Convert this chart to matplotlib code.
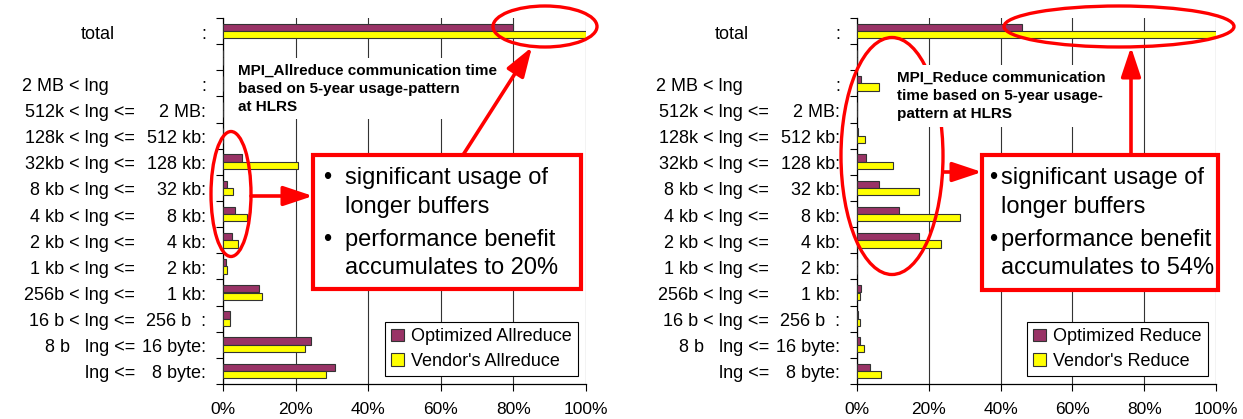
import numpy as np
import matplotlib
matplotlib.use("Agg")
import matplotlib.pyplot as plt
from matplotlib.patches import Ellipse, Rectangle
from matplotlib.transforms import blended_transform_factory, offset_copy

plt.rcParams['font.family'] = ['Liberation Sans', 'DejaVu Sans']

# message-size classes, top to bottom
left_labels = ["total", "", "2 MB < lng", "512k < lng <=", "128k < lng <=", "32kb < lng <=",
               "8 kb < lng <=", "4 kb < lng <=", "2 kb < lng <=", "1 kb < lng <=",
               "256b < lng <=", "16 b < lng <=", "8 b   lng <=", "lng <="]
right_labels = [":", "", ":", "2 MB:", "512 kb:", "128 kb:", "32 kb:", "8 kb:", "4 kb:",
                "2 kb:", "1 kb:", "256 b  :", "16 byte:", "8 byte:"]

# share of communication time in %
allreduce_opt = [80, 0, 0, 0, 0, 5.2, 1.0, 3.3, 2.5, 0.8, 10.0, 1.8, 24.2, 30.8]
allreduce_vendor = [100, 0, 0, 0, 0, 20.6, 2.7, 6.6, 4.0, 1.0, 10.7, 1.8, 22.6, 28.5]
reduce_opt = [46.1, 0, 1.1, 0, 0.4, 2.6, 6.0, 11.8, 17.2, 0, 1.1, 0.4, 0.9, 3.7]
reduce_vendor = [100, 0, 6.2, 0, 2.1, 9.9, 17.2, 28.8, 23.5, 0, 0.9, 0.9, 2.0, 6.6]

x_ticks = [0, 20, 40, 60, 80, 100]

PURPLE = "#993366"
YELLOW = "#FFFF00"
EDGE = "#333333"
RED = "#FF0000"

W, H = 1243, 419
fig = plt.figure(figsize=(W / 100, H / 100), dpi=100)


def draw_panel(x0, x1, opt, vendor, names):
    top, bottom = 18, 384
    ax = fig.add_axes([x0 / W, 1 - bottom / H, (x1 - x0) / W, (bottom - top) / H])
    y = np.arange(len(opt))
    h = 0.28
    ax.barh(y - h / 2, opt, height=h, color=PURPLE, edgecolor=EDGE, lw=0.8,
            label=names[0], zorder=3)
    ax.barh(y + h / 2, vendor, height=h, color=YELLOW, edgecolor=EDGE, lw=0.8,
            label=names[1], zorder=3)
    ax.set_xlim(0, 100)
    ax.set_ylim(len(opt) - 0.5, -0.5)
    ax.set_xticks(x_ticks)
    ax.set_xticklabels([f"{v}%" for v in x_ticks])
    ax.set_yticks(np.arange(-0.5, len(opt)))
    ax.tick_params(axis='y', length=5, width=0.8, labelleft=False)
    ax.tick_params(axis='x', length=5, width=0.8, labelsize=12.5, pad=8)
    ax.grid(axis='x', color='#333333', lw=0.8)
    ax.set_axisbelow(True)
    for s in ['top', 'right']:
        ax.spines[s].set_visible(False)
    for s in ['left', 'bottom']:
        ax.spines[s].set_linewidth(0.9)

    # row labels in two columns, like the original spreadsheet
    base = blended_transform_factory(ax.transAxes, ax.transData)
    t_right = offset_copy(base, fig=fig, x=-17, y=-3, units='dots')
    t_le = offset_copy(base, fig=fig, x=-88, y=-3, units='dots')
    t_lng = offset_copy(base, fig=fig, x=-114, y=-3, units='dots')
    t_tot = offset_copy(base, fig=fig, x=-108, y=-3, units='dots')
    for i, (a, b) in enumerate(zip(left_labels, right_labels)):
        if a.endswith("<="):
            tr = t_le
        elif a == "total":
            tr = t_tot
        else:
            tr = t_lng
        ax.text(0, i, a, transform=tr, ha='right', va='center', fontsize=13)
        ax.text(0, i, b, transform=t_right, ha='right', va='center', fontsize=13)

    leg = ax.legend(loc='lower right', bbox_to_anchor=(0.978, 0.022), fontsize=13,
                    frameon=True, fancybox=False, edgecolor='black', framealpha=1,
                    borderaxespad=0, handlelength=0.7, handleheight=0.7,
                    handletextpad=0.4, labelspacing=0.4, borderpad=0.35)
    leg.get_frame().set_linewidth(0.8)
    return ax


draw_panel(223, 586, allreduce_opt, allreduce_vendor,
           ["Optimized Allreduce", "Vendor's Allreduce"])
draw_panel(857, 1216, reduce_opt, reduce_vendor,
           ["Optimized Reduce", "Vendor's Reduce"])

# annotation overlay in pixel coordinates
ov = fig.add_axes([0, 0, 1, 1], zorder=10)
ov.set_xlim(0, W)
ov.set_ylim(H, 0)
ov.axis('off')

for (cx, cy, ew, eh) in [(545, 26.5, 104, 41), (231, 194, 40, 125),
                         (892, 156, 102, 237), (1119, 26.5, 230, 41)]:
    ov.add_patch(Ellipse((cx, cy), ew, eh, fill=False, ec=RED, lw=2.4))

ov.text(238, 88.5, "MPI_Allreduce communication time\nbased on 5-year usage-pattern\nat HLRS",
        fontsize=11, fontweight='bold', ha='left', va='center', linespacing=1.38,
        bbox=dict(fc='white', ec='none', pad=4))
ov.text(897, 96, "MPI_Reduce communication\ntime based on 5-year usage-\npattern at HLRS",
        fontsize=11, fontweight='bold', ha='left', va='center', linespacing=1.38,
        bbox=dict(fc='white', ec='none', pad=4))

arrow = dict(arrowstyle='-|>,head_length=0.9,head_width=0.3', color=RED, lw=2.6,
             mutation_scale=20, shrinkA=0, shrinkB=0)
ov.annotate('', xy=(313, 196), xytext=(251, 196), arrowprops=arrow)
ov.annotate('', xy=(532, 47), xytext=(463, 155), arrowprops=arrow)
ov.annotate('', xy=(982, 172), xytext=(943, 172), arrowprops=arrow)
ov.annotate('', xy=(1131, 47), xytext=(1131, 155), arrowprops=arrow)

ov.add_patch(Rectangle((313, 155), 268, 134, fc='white', ec=RED, lw=3))
ov.add_patch(Rectangle((982, 155), 236, 135, fc='white', ec=RED, lw=3))

box_lines = [("significant usage of", True), ("longer buffers", False),
             ("performance benefit", True)]
for bx, tx, pct in [(327, 345, "20%"), (993, 1001, "54%")]:
    lines = box_lines + [(f"accumulates to {pct}", False)]
    for (txt, bullet), ly in zip(lines, [178, 207, 240, 268]):
        if bullet:
            ov.text(bx, ly, "\u2022", fontsize=17, ha='center', va='center')
        ov.text(tx, ly, txt, fontsize=17, ha='left', va='center')

fig.savefig("out.png", dpi=100)
